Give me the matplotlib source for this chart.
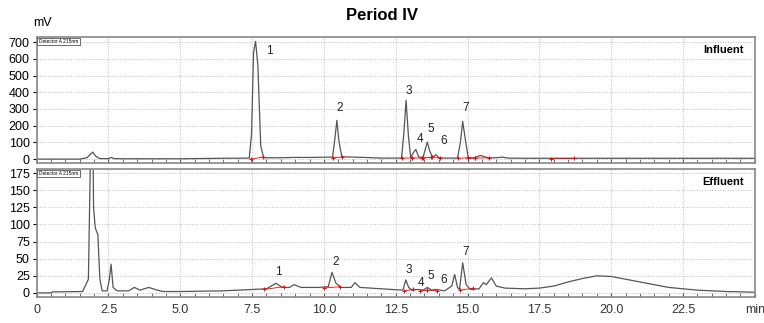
import matplotlib.pyplot as plt
from matplotlib.ticker import MultipleLocator

plt.rcParams['font.family'] = ['Liberation Sans', 'DejaVu Sans']

# Influent trace (time min, mV)
inf_t = [0.0, 1.5, 1.75, 1.88, 1.95, 2.05, 2.2, 2.5, 2.6, 2.7, 3.0, 5.0, 6.5, 7.4, 7.48,
         7.55, 7.62, 7.7, 7.8, 7.9, 8.5, 8.9, 9.5, 10.3, 10.38, 10.45, 10.52, 10.62, 11.0, 11.4,
         12.0, 12.7, 12.78, 12.86, 12.94, 13.02, 13.12, 13.2, 13.3, 13.45, 13.53, 13.6, 13.68,
         13.78, 13.9, 14.0, 14.2, 14.65, 14.75, 14.83, 14.92, 15.02, 15.2, 15.45, 15.7, 16.0,
         16.2, 16.4, 17.0, 18.0, 19.0, 20.0, 22.0, 25.0]
inf_v = [0, 0, 8, 30, 42, 18, 3, 3, 10, 3, 2, 2, 5, 6, 150,
         640, 705, 560, 80, 8, 8, 10, 10, 12, 120, 232, 110, 14, 12, 10,
         6, 6, 150, 352, 140, 10, 40, 58, 12, 10, 60, 102, 50, 12, 26, 8, 6, 6, 100,
         225, 120, 10, 6, 22, 8, 8, 12, 6, 5, 5, 5, 5, 5, 5]

# Effluent trace
eff_t = [0.0, 0.5, 0.55, 1.6, 1.8, 1.86, 1.92, 1.98, 2.04, 2.13, 2.2, 2.28, 2.45, 2.53, 2.59,
         2.66, 2.8, 3.2, 3.4, 3.6, 3.9, 4.2, 4.4, 5.0, 6.5, 7.5, 8.0, 8.33, 8.55, 8.8, 8.96,
         9.2, 9.8, 10.15, 10.28, 10.42, 10.6, 10.95, 11.08, 11.25, 12.0, 12.75, 12.85, 12.95,
         13.05, 13.3, 13.45, 13.6, 13.75, 13.9, 14.2, 14.45, 14.55, 14.65, 14.72, 14.83, 14.95,
         15.1, 15.4, 15.55, 15.65, 15.83, 16.0, 16.3, 17.0, 17.5, 18.0, 18.5, 19.0, 19.5, 20.0,
         20.5, 21.0, 21.5, 22.0, 22.5, 23.0, 23.5, 24.0, 24.5, 25.0]
eff_v = [0, 0, 1.5, 2, 20, 170, 400, 125, 95, 85, 20, 3, 3, 20, 42,
         8, 3, 3, 8, 4, 8, 4, 2, 2, 3, 5, 6, 14, 8, 8, 12,
         8, 8, 9, 30, 14, 8, 8, 15, 8, 6, 4, 19, 8,
         4, 5, 4, 8, 4, 5, 3, 10, 27, 8, 5, 44, 12,
         5, 6, 15, 12, 22, 10, 7, 6, 7, 10, 16, 21, 25, 24,
         20, 16, 12, 8, 6, 4, 3, 2, 1.5, 1]

# integration baselines (red)
inf_marks = [(7.45, 7.88, 0, 12), (10.3, 10.62, 8, 12), (12.72, 13.05, 5, 8),
             (13.05, 13.4, 8, 6), (13.45, 13.72, 8, 10), (13.75, 14.05, 10, 7),
             (14.65, 15.0, 4, 8), (15.0, 15.25, 8, 6), (15.25, 15.75, 6, 8),
             (17.9, 18.7, 3, 5)]
eff_marks = [(7.9, 8.6, 5, 9), (10.0, 10.55, 7, 9), (12.8, 13.1, 3, 5),
             (13.35, 13.6, 3, 4), (13.6, 13.95, 4, 3), (14.75, 15.2, 4, 7)]

peaks = ['1', '2', '3', '4', '5', '6', '7']
inf_lab_t = [8.0, 10.45, 12.85, 13.22, 13.62, 14.05, 14.83]
inf_lab_v = [650, 305, 410, 120, 180, 110, 305]
eff_lab_t = [8.3, 10.28, 12.85, 13.25, 13.62, 14.05, 14.83]
eff_lab_v = [30, 45, 33, 15, 25, 19, 60]

fig = plt.figure(figsize=(7.64, 3.23), dpi=100)
ax1 = fig.add_axes([0.048, 0.495, 0.94, 0.39])
ax2 = fig.add_axes([0.048, 0.0805, 0.94, 0.396])

def style(ax, lab_t, lab_v, t, v, marks, ylim, ystep, name):
    ax.plot(t, v, color='#555555', lw=0.9)
    for t0, t1, v0, v1 in marks:
        ax.plot([t0, t1], [v0, v1], color='red', lw=0.6, marker='+', ms=3.5, mew=0.7)
    for p, x, y in zip(peaks, lab_t, lab_v):
        ax.text(x, y, p, fontsize=8.5, ha='left', va='center', color='#222222')
    ax.set_xlim(0, 25)
    ax.set_ylim(*ylim)
    ax.yaxis.set_major_locator(MultipleLocator(ystep))
    ax.xaxis.set_major_locator(MultipleLocator(2.5))
    ax.xaxis.set_minor_locator(MultipleLocator(0.5))
    ax.grid(True, which='major', ls=':', color='#bbbbbb', lw=0.7)
    ax.tick_params(axis='x', which='both', direction='in', length=3, color='#555555')
    ax.tick_params(axis='y', length=3, labelsize=9, pad=2)
    for s in ax.spines.values():
        s.set_color('#888888')
        s.set_linewidth(1.2)
    ax.text(0.985, 0.9, name, transform=ax.transAxes, ha='right', va='center',
            fontsize=8, fontweight='bold')
    ax.text(0.003, 0.985, 'Detector A 215nm', transform=ax.transAxes, ha='left', va='top',
            fontsize=3.5, bbox=dict(boxstyle='square,pad=0.3', fc='white', ec='#555555', lw=0.6))

style(ax1, inf_lab_t, inf_lab_v, inf_t, inf_v, inf_marks, (-24, 730), 100, 'Influent')
style(ax2, eff_lab_t, eff_lab_v, eff_t, eff_v, eff_marks, (-6, 181), 25, 'Effluent')

ax1.tick_params(axis='x', labelbottom=False)
ax2.set_xticks([0, 2.5, 5, 7.5, 10, 12.5, 15, 17.5, 20, 22.5, 25])
ax2.set_xticklabels(['0', '2.5', '5.0', '7.5', '10.0', '12.5', '15.0', '17.5', '20.0',
                     '22.5', 'min'], fontsize=9, color='#333333')
ax2.tick_params(axis='x', which='major', pad=5)

fig.text(0.055, 0.93, 'mV', fontsize=9, ha='center', va='center')
fig.suptitle('Period IV', fontsize=12, fontweight='bold', y=0.975)

fig.savefig('out.png', dpi=100)
